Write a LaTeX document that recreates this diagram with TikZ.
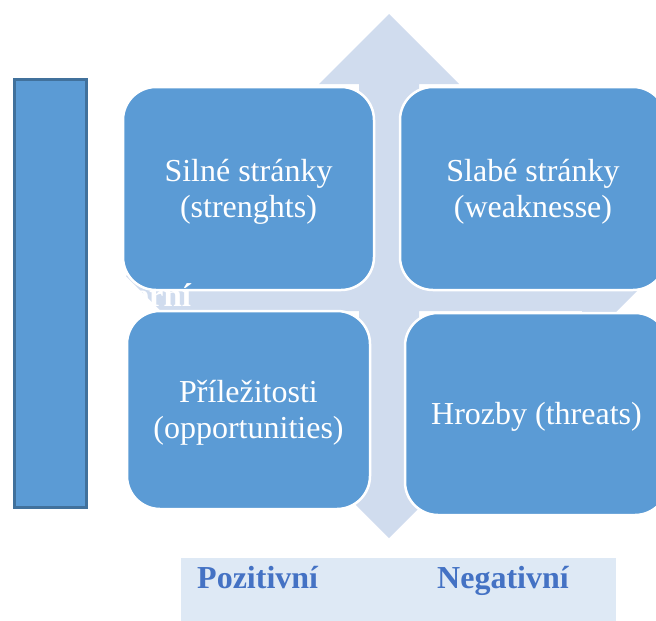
\documentclass[tikz,border=0pt]{standalone}
\usepackage{fontspec}
\setmainfont{Liberation Serif}
\definecolor{boxblue}{RGB}{91,155,213}
\definecolor{barline}{RGB}{65,113,156}
\definecolor{crosscol}{RGB}{208,220,238}
\definecolor{labelbg}{RGB}{222,233,245}
\definecolor{labeltxt}{RGB}{68,114,196}
\tikzset{
  swotbox/.style={rectangle, rounded corners=33pt, fill=boxblue, draw=white, line width=2.5pt, inner sep=0pt},
  boxtext/.style={inner sep=0pt, align=center, text=white, yshift=-3pt, font=\fontsize{32}{36}\selectfont},
  axislabel/.style={anchor=base west, inner sep=0pt, text=labeltxt, font=\fontsize{32}{36}\selectfont\bfseries}
}
\begin{document}
\begin{tikzpicture}[x=1pt,y=-1pt]
\useasboundingbox (0,0) rectangle (656,621);
\clip (0,0) rectangle (656,621);
% light four-way arrow
\fill[crosscol] (389,14) -- (459,84) -- (419,84) -- (419,241) -- (582,241) -- (582,206) -- (652,276)
  -- (582,346) -- (582,311) -- (419,311) -- (419,468) -- (459,468) -- (389,538) -- (319,468)
  -- (359,468) -- (359,311) -- (196,311) -- (196,346) -- (126,276) -- (196,206) -- (196,241)
  -- (359,241) -- (359,84) -- (319,84) -- cycle;
% quadrants
\node[swotbox, minimum width=251pt, minimum height=203pt] (s) at (248.5,188.5) {};
\node[swotbox, minimum width=266pt, minimum height=203pt] (w) at (533,188.5) {};
\node[swotbox, minimum width=243pt, minimum height=198pt] (o) at (248.5,410) {};
\node[swotbox, minimum width=263pt, minimum height=202pt] (t) at (536.5,414) {};
\node[boxtext] (st) at (s.center) {Silné stránky\\(strenghts)};
\node[boxtext] (wt) at (w.center) {Slabé stránky\\(weaknesse)};
\node[boxtext] (ot) at (o.center) {Příležitosti\\(opportunities)};
\node[boxtext] (tt) at (t.center) {Hrozby (threats)};
\node[anchor=base west, inner sep=0pt, text=white, font=\fontsize{33}{36}\selectfont\bfseries] (hidden) at (134,306) {erní};
% left bar
\node[rectangle, fill=boxblue, draw=barline, line width=3pt, minimum width=72pt, minimum height=428pt, inner sep=0pt] (bar) at (50,293) {};
% bottom label strip
\node[rectangle, fill=labelbg, minimum width=435pt, minimum height=70pt, inner sep=0pt] (strip) at (398.5,593) {};
\node[axislabel] (pos) at (197,588) {Pozitivní};
\node[axislabel] (neg) at (437,588) {Negativní};
\end{tikzpicture}
\end{document}
